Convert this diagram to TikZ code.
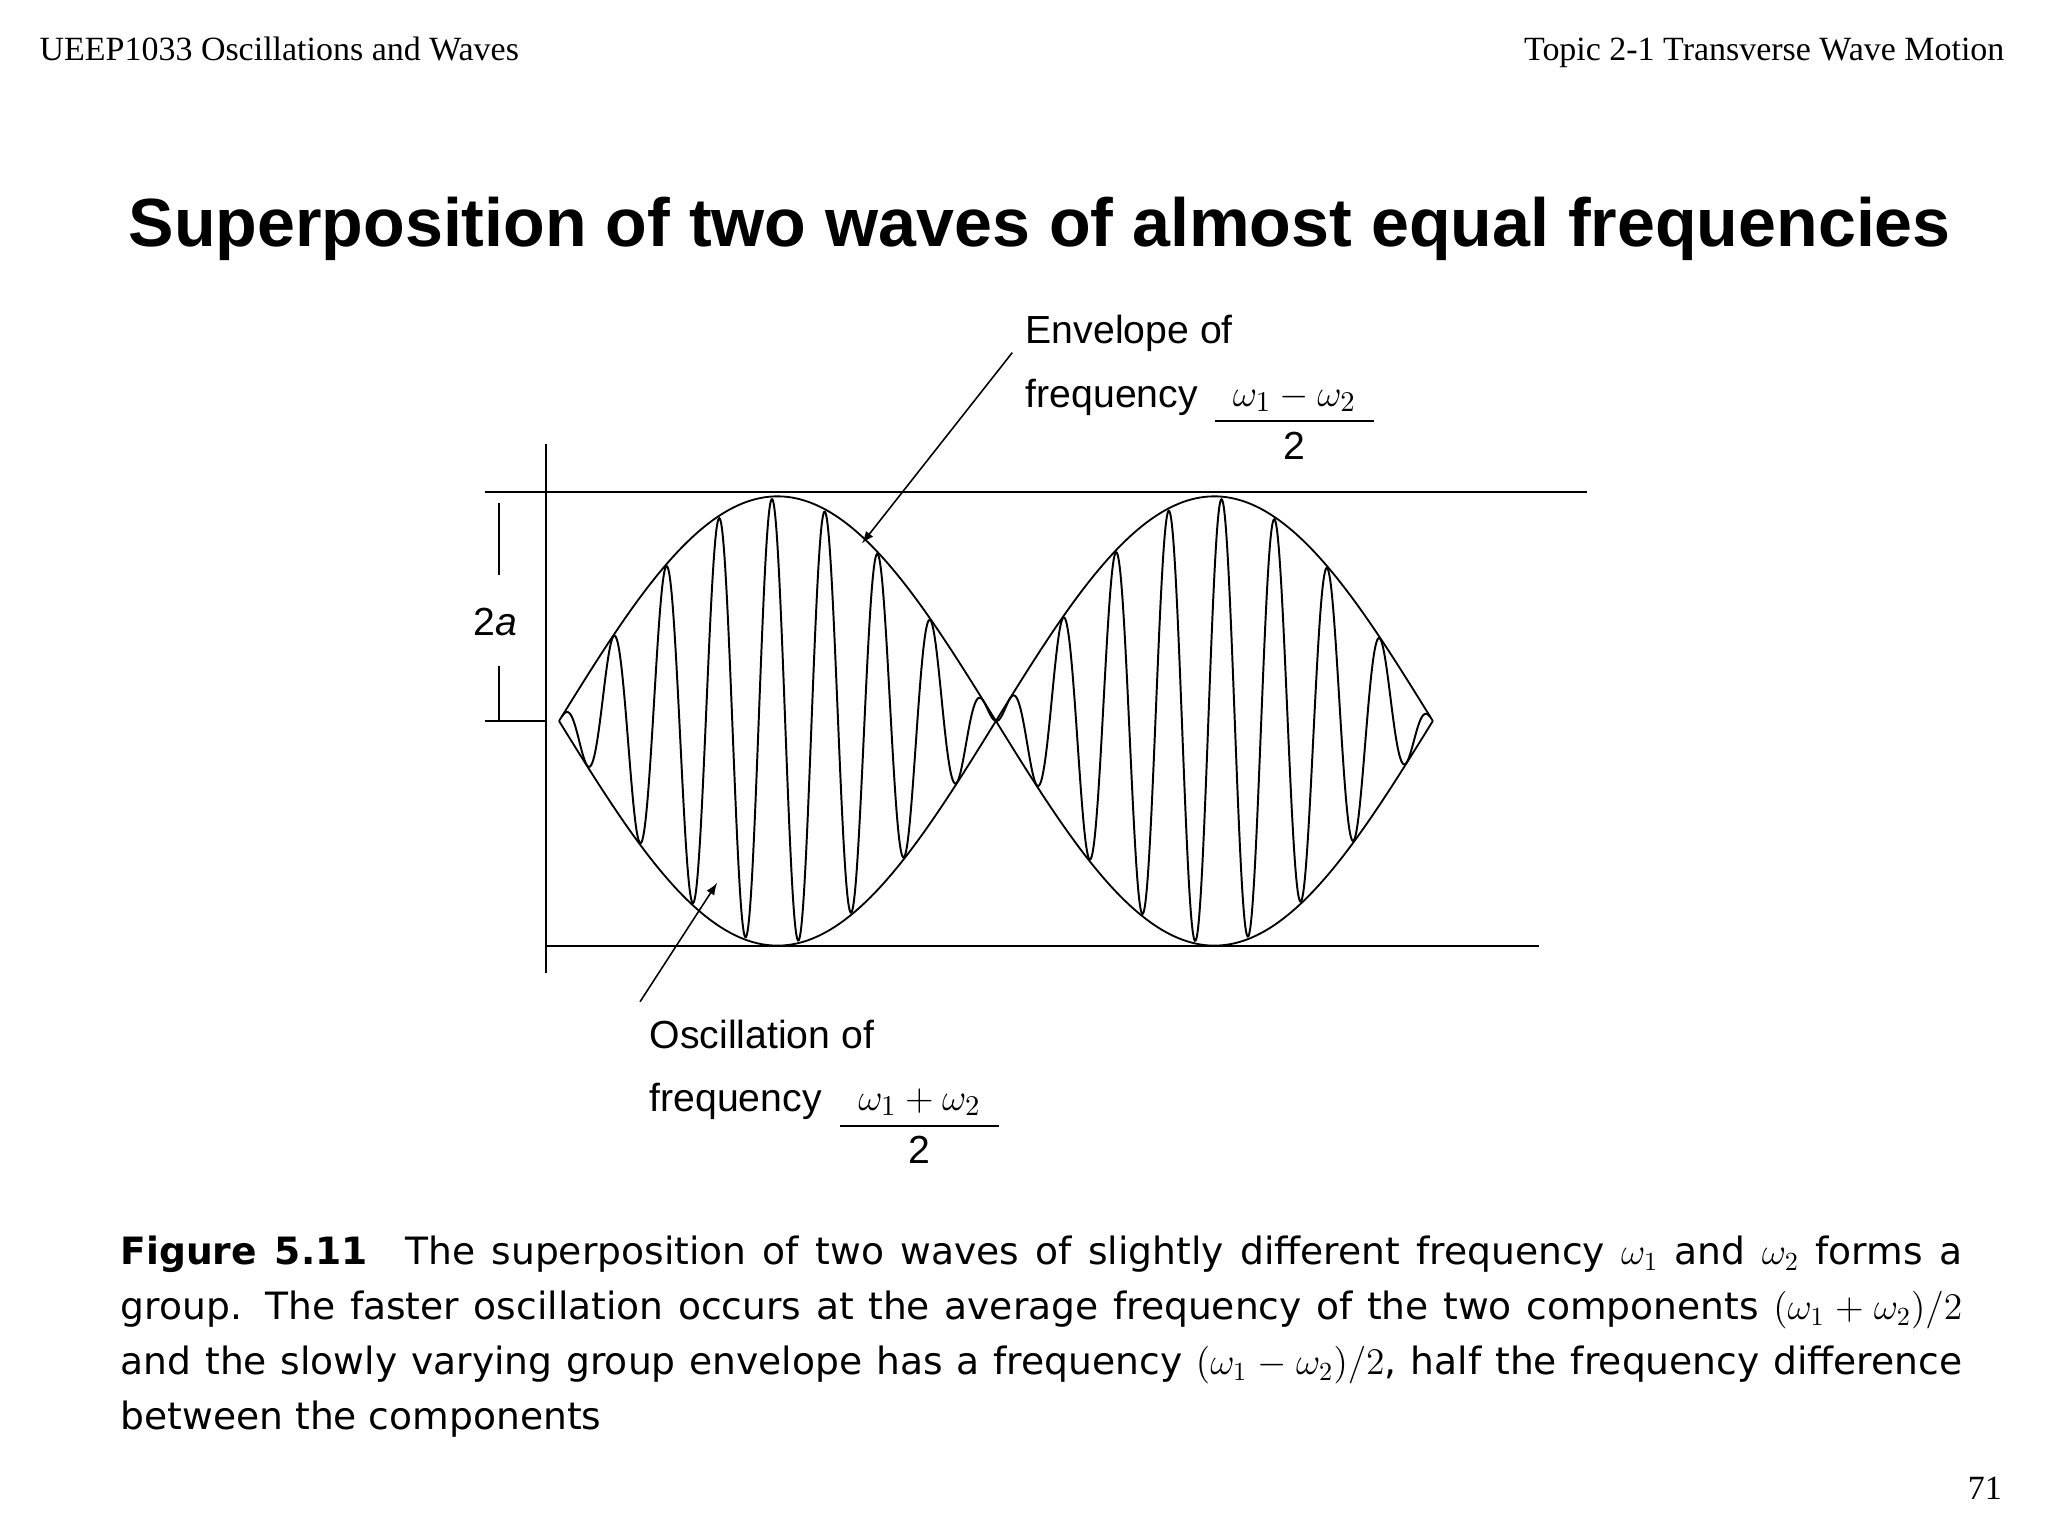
\documentclass[tikz,border=0pt]{standalone}
\usepackage{fontspec}
\setmainfont{Liberation Serif}
\newfontfamily\arialf{Liberation Sans}
\newfontfamily\capf{DejaVu Sans}
\begin{document}
\begin{tikzpicture}[x=0.5pt,y=-0.5pt,
  lbl/.style={font=\arialf\fontsize{15}{18}\selectfont,inner sep=0pt},
  ln/.style={line width=0.7pt},
  arr/.style={line width=0.6pt,-latex}]
\useasboundingbox (0,0) rectangle (1568,1176);
\node[anchor=base west,inner sep=0pt,font=\fontsize{13}{14}\selectfont] (hl) at (30,46) {UEEP1033 Oscillations and Waves};
\node[anchor=base east,inner sep=0pt,font=\fontsize{13}{14}\selectfont] (hr) at (1535,46) {Topic 2-1 Transverse Wave Motion};
\node[anchor=base,inner sep=0pt,font=\arialf\bfseries\fontsize{26.1}{30}\selectfont] (title) at (796,189) {Superposition of two waves of almost equal frequencies};
% axes
\coordinate (ya) at (418,340); \coordinate (yb) at (418,745);
\draw[ln] (ya) -- (yb);
\coordinate (t1) at (371,377); \coordinate (t2) at (1215,377);
\draw[ln] (t1) -- (t2);
\coordinate (b1) at (418,724); \coordinate (b2) at (1178,724);
\draw[ln] (b1) -- (b2);
\coordinate (m1) at (371,552); \coordinate (m2) at (418,552);
\draw[ln] (m1) -- (m2);
\coordinate (k1) at (382,385); \coordinate (k2) at (382,440);
\coordinate (k3) at (382,510); \coordinate (k4) at (382,552);
\draw[ln] (k1) -- (k2) (k3) -- (k4);
\node[lbl] (twoa) at (379,476) {2\textit{a}};
% envelope
\draw[ln,domain=428:1097,samples=200] plot (\x,{552-172*sin((\x-428)/334.5*180)});
\draw[ln,domain=428:1097,samples=200] plot (\x,{552+172*sin((\x-428)/334.5*180)});
% carrier
\draw[line width=0.75pt,domain=430:1095,samples=1400,smooth] plot (\x,{552-170*sin((\x-428)/334.5*180)*cos((\x-591)/40.5*360)});
% envelope label
\node[lbl,anchor=base west] (e1) at (785,263) {Envelope of};
\node[lbl,anchor=base west] (e2) at (785,312) {frequency};
\node[inner sep=0pt,font=\fontsize{15}{18}\selectfont,anchor=base] (ef) at (991,311) {$\omega_1-\omega_2$};
\coordinate (el1) at (930,322); \coordinate (el2) at (1052,322);
\draw[line width=0.8pt] (el1) -- (el2);
\node[lbl,anchor=base] (e3) at (991,352) {2};
\coordinate (ea) at (775,270); \coordinate (eb) at (660,416);
\draw[arr] (ea) -- (eb);
% oscillation label
\node[lbl,anchor=base west] (o1) at (497,803) {Oscillation of};
\node[lbl,anchor=base west] (o2) at (497,851) {frequency};
\node[inner sep=0pt,font=\fontsize{15}{18}\selectfont,anchor=base] (of) at (704,850) {$\omega_1+\omega_2$};
\coordinate (ol1) at (643,862); \coordinate (ol2) at (765,862);
\draw[line width=0.8pt] (ol1) -- (ol2);
\node[lbl,anchor=base] (o3) at (704,891) {2};
\coordinate (oa) at (490,767); \coordinate (ob) at (549,676);
\draw[arr] (oa) -- (ob);
% caption
\node[anchor=north west,inner sep=0pt,text width=705pt,align=justify,font=\capf\fontsize{14.4}{21}\selectfont] (cap) at (92,946)
{\textbf{Figure 5.11}\hspace{1em}The superposition of two waves of slightly different frequency $\omega_1$ and $\omega_2$ forms a\linebreak group. The faster oscillation occurs at the average frequency of the two components $(\omega_1+\omega_2)/2$\linebreak and the slowly varying group envelope has a frequency $(\omega_1-\omega_2)/2$, half the frequency difference\linebreak between the components};
\node[anchor=base east,inner sep=0pt,font=\fontsize{13}{14}\selectfont] (pg) at (1533,1148) {71};
\end{tikzpicture}
\end{document}
